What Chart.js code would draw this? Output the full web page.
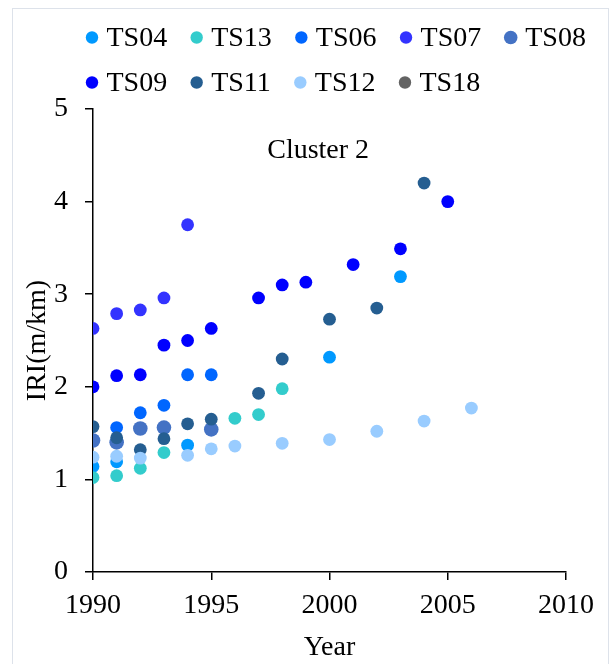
<!DOCTYPE html>
<html>
<head>
<meta charset="utf-8">
<script src="https://cdn.jsdelivr.net/npm/chart.js@4.4.1/dist/chart.umd.min.js"></script>
<style>
  html, body { margin: 0; padding: 0; background: #fff; }
  .frame { position: absolute; left: 12px; top: 8px; width: 595px; height: 700px; border: 1px solid #dde2ea; }
  .wrap { position: absolute; left: 0; top: 0; width: 610px; height: 664px; }
</style>
</head>
<body>
<div class="frame"></div>
<div class="wrap"><canvas id="scatter" width="610" height="664"></canvas></div>
<script>
const seriesNames = ['TS04', 'TS13', 'TS06', 'TS07', 'TS08', 'TS09', 'TS11', 'TS12', 'TS18'];
const seriesColors = ['#0099ff', '#33cccc', '#0066ff', '#3333ff', '#4472c4', '#0000ff', '#255e91', '#99ccff', '#636363'];

// year / IRI pairs per section
const ts04Years = [1990, 1991, 1994, 2000, 2003];
const ts04Iri   = [1.14, 1.19, 1.37, 2.32, 3.19];
const ts13Years = [1990, 1991, 1992, 1993, 1996, 1997, 1998];
const ts13Iri   = [1.02, 1.04, 1.12, 1.29, 1.66, 1.70, 1.98];
const ts06Years = [1991, 1992, 1993, 1994, 1995];
const ts06Iri   = [1.56, 1.72, 1.80, 2.13, 2.13];
const ts07Years = [1990, 1991, 1992, 1993, 1994];
const ts07Iri   = [2.63, 2.79, 2.83, 2.96, 3.75];
const ts08Years = [1990, 1991, 1992, 1993, 1995];
const ts08Iri   = [1.42, 1.40, 1.55, 1.56, 1.54];
const ts09Years = [1990, 1991, 1992, 1993, 1994, 1995, 1997, 1998, 1999, 2001, 2003, 2005];
const ts09Iri   = [2.00, 2.12, 2.13, 2.45, 2.50, 2.63, 2.96, 3.10, 3.13, 3.32, 3.49, 4.00];
const ts11Years = [1990, 1991, 1992, 1993, 1994, 1995, 1997, 1998, 2000, 2002, 2004];
const ts11Iri   = [1.57, 1.45, 1.32, 1.44, 1.60, 1.65, 1.93, 2.30, 2.73, 2.85, 4.20];
const ts12Years = [1990, 1991, 1992, 1994, 1995, 1996, 1998, 2000, 2002, 2004, 2006];
const ts12Iri   = [1.24, 1.25, 1.23, 1.26, 1.33, 1.36, 1.39, 1.43, 1.52, 1.63, 1.77];
const ts18Years = [];
const ts18Iri   = [];

const xTicks = [1990, 1995, 2000, 2005, 2010];
const yTicks = [0, 1, 2, 3, 4, 5];

const allYears = [ts04Years, ts13Years, ts06Years, ts07Years, ts08Years, ts09Years, ts11Years, ts12Years, ts18Years];
const allIri = [ts04Iri, ts13Iri, ts06Iri, ts07Iri, ts08Iri, ts09Iri, ts11Iri, ts12Iri, ts18Iri];

const serif = "'Liberation Serif', 'Times New Roman', serif";

const datasets = seriesNames.map((name, i) => ({
  label: name,
  data: allYears[i].map((yr, k) => ({ x: yr, y: allIri[i][k] })),
  backgroundColor: seriesColors[i],
  borderColor: seriesColors[i],
  borderWidth: 0,
  pointRadius: name === 'TS08' ? 7.3 : 6.4,
  pointHoverRadius: 7,
  order: -i   // later series sit on top
}));

// legend drawn in two rows, plus the in-plot caption
const chartText = {
  id: 'chartText',
  afterDraw(chart) {
    const ctx = chart.ctx;
    const area = chart.chartArea;
    ctx.save();
    ctx.font = '28px ' + serif;
    ctx.fillStyle = '#000';
    ctx.textBaseline = 'middle';
    ctx.textAlign = 'center';
    ctx.fillText('Cluster 2', area.left + (area.right - area.left) * 0.476, area.top + 42);

    const rows = [[0, 1, 2, 3, 4], [5, 6, 7, 8]];
    const rowY = [37.5, 82.5];
    ctx.textAlign = 'left';
    rows.forEach((row, r) => {
      let x = 92;
      row.forEach(i => {
        ctx.beginPath();
        ctx.fillStyle = seriesColors[i];
        ctx.arc(x, rowY[r], i === 4 ? 6.8 : 6.2, 0, Math.PI * 2);
        ctx.fill();
        ctx.fillStyle = '#000';
        ctx.fillText(seriesNames[i], x + 14.5, rowY[r] + 1);
        x += 14.5 + ctx.measureText(seriesNames[i]).width + 29.5;
      });
    });
    ctx.restore();
  }
};

new Chart(document.getElementById('scatter'), {
  type: 'scatter',
  data: { datasets: datasets },
  plugins: [chartText],
  options: {
    responsive: false,
    animation: false,
    layout: { padding: { top: 109, right: 44, bottom: 0, left: 0 } },
    plugins: {
      legend: { display: false },
      title: { display: false },
      tooltip: { enabled: false }
    },
    scales: {
      x: {
        type: 'linear',
        min: 1990,
        max: 2010,
        afterBuildTicks: (scale) => { scale.ticks = xTicks.map(v => ({ value: v })); },
        afterFit: (scale) => { scale.height = 92; },
        border: { color: '#000', width: 1.5 },
        grid: { drawOnChartArea: false, tickLength: 8, tickColor: '#000', lineWidth: 1.5 },
        ticks: {
          color: '#000',
          padding: 9,
          font: { family: serif, size: 28 },
          callback: (v) => String(v)
        },
        title: {
          display: true,
          text: 'Year',
          color: '#000',
          font: { family: serif, size: 28 },
          padding: { top: 0, bottom: 0 }
        }
      },
      y: {
        min: 0,
        max: 5,
        afterBuildTicks: (scale) => { scale.ticks = yTicks.map(v => ({ value: v })); },
        afterFit: (scale) => { scale.width = 93; },
        border: { color: '#000', width: 1.5 },
        grid: { drawOnChartArea: false, tickLength: 8, tickColor: '#000', lineWidth: 1.5 },
        ticks: {
          color: '#000',
          padding: 17,
          font: { family: serif, size: 28 }
        },
        title: {
          display: true,
          text: 'IRI(m/km)',
          color: '#000',
          font: { family: serif, size: 28 },
          padding: { top: 21, bottom: 0 }
        }
      }
    }
  }
});
</script>
</body>
</html>
